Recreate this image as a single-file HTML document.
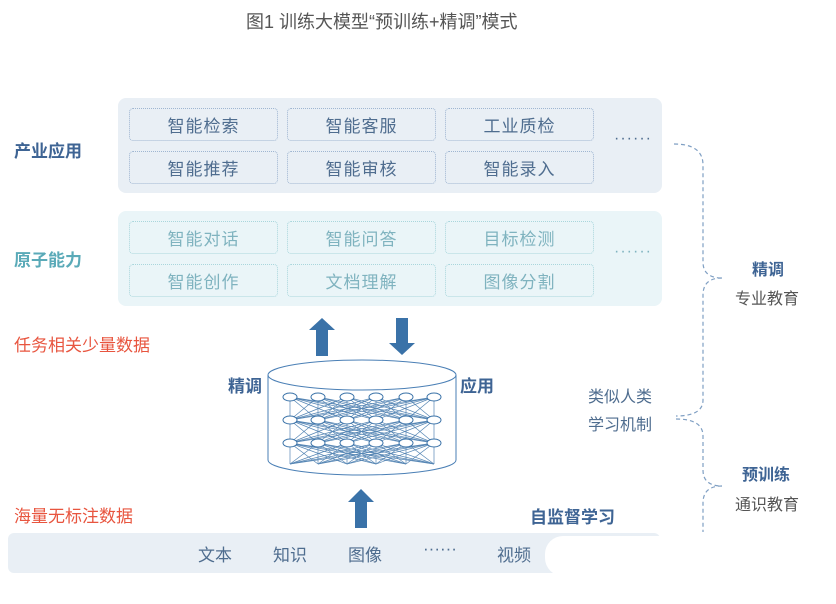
<!DOCTYPE html>
<html><head><meta charset="utf-8"><style>
body{margin:0;width:836px;height:604px;background:#fff;position:relative;overflow:hidden;font-family:"Liberation Sans","Noto Sans CJK SC",sans-serif}
.a{position:absolute;white-space:nowrap}
.c{position:absolute;border:1.3px dotted #9fb6d1;border-radius:4px;box-sizing:border-box;display:flex;align-items:center;justify-content:center;font-size:17px;color:#4f6d8f;letter-spacing:1px}
.c2{border-color:#a9d6dc;color:#7fb3bf}
</style></head><body>
<div class="a" style="left:246px;top:8px;font-size:18px;color:#555;">图1 训练大模型“预训练+精调”模式</div>

<div class="a" style="left:118px;top:98px;width:544px;height:95px;background:#e9eff5;border-radius:8px"></div>
<div class="a" style="left:118px;top:211px;width:544px;height:95px;background:#eaf5f8;border-radius:8px"></div>

<div class="c" style="left:129px;top:108px;width:149px;height:33px">智能检索</div>
<div class="c" style="left:287px;top:108px;width:149px;height:33px">智能客服</div>
<div class="c" style="left:445px;top:108px;width:149px;height:33px">工业质检</div>
<div class="c" style="left:129px;top:151px;width:149px;height:33px">智能推荐</div>
<div class="c" style="left:287px;top:151px;width:149px;height:33px">智能审核</div>
<div class="c" style="left:445px;top:151px;width:149px;height:33px">智能录入</div>
<div class="c c2" style="left:129px;top:221px;width:149px;height:33px">智能对话</div>
<div class="c c2" style="left:287px;top:221px;width:149px;height:33px">智能问答</div>
<div class="c c2" style="left:445px;top:221px;width:149px;height:33px">目标检测</div>
<div class="c c2" style="left:129px;top:264px;width:149px;height:33px">智能创作</div>
<div class="c c2" style="left:287px;top:264px;width:149px;height:33px">文档理解</div>
<div class="c c2" style="left:445px;top:264px;width:149px;height:33px">图像分割</div>
<div class="a" style="left:614px;top:130px;font-size:16px;color:#4f6d8f;letter-spacing:1px">······</div>
<div class="a" style="left:614px;top:243px;font-size:16px;color:#7fb3bf;letter-spacing:1px">······</div>

<div class="a" style="left:14px;top:137px;font-size:17px;font-weight:bold;color:#3e6494">产业应用</div>
<div class="a" style="left:14px;top:246px;font-size:17px;font-weight:bold;color:#5aaab8">原子能力</div>
<div class="a" style="left:14px;top:331px;font-size:17px;color:#e8553f">任务相关少量数据</div>
<div class="a" style="left:14px;top:502px;font-size:17px;color:#e8553f">海量无标注数据</div>
<div class="a" style="left:228px;top:372px;font-size:17px;font-weight:bold;color:#3e6494">精调</div>
<div class="a" style="left:460px;top:372px;font-size:17px;font-weight:bold;color:#3e6494">应用</div>
<div class="a" style="left:530px;top:503px;font-size:17px;font-weight:bold;color:#3e6494">自监督学习</div>
<div class="a" style="left:588px;top:384px;font-size:16px;color:#4f6d8f;line-height:28px">类似人类<br>学习机制</div>
<div class="a" style="left:752px;top:256px;font-size:16px;font-weight:bold;color:#3e6494">精调</div>
<div class="a" style="left:735px;top:285px;font-size:16px;color:#555">专业教育</div>
<div class="a" style="left:742px;top:461px;font-size:16px;font-weight:bold;color:#3e6494">预训练</div>
<div class="a" style="left:735px;top:491px;font-size:16px;color:#555">通识教育</div>

<div class="a" style="left:8px;top:533px;width:652px;height:40px;background:#e9eff5;border-radius:6px"></div>
<div class="a" style="left:545px;top:536px;width:140px;height:40px;background:#fff;border-radius:18px 0 0 18px"></div>
<div class="a" style="left:198px;top:541px;font-size:17px;color:#4f6d8f">文本</div>
<div class="a" style="left:273px;top:541px;font-size:17px;color:#4f6d8f">知识</div>
<div class="a" style="left:348px;top:541px;font-size:17px;color:#4f6d8f">图像</div>
<div class="a" style="left:423px;top:539px;font-size:17px;color:#4f6d8f">······</div>
<div class="a" style="left:497px;top:541px;font-size:17px;color:#4f6d8f">视频</div>

<svg class="a" style="left:0;top:0" width="836" height="604">
<g fill="#3a72a8">
<polygon points="322,318 335,330 328,330 328,356 316,356 316,330 309,330"/>
<polygon points="402,355 415,343 408,343 408,318 396,318 396,343 389,343"/>
<polygon points="361,489 374,502 367,502 367,528 355,528 355,502 348,502"/>
</g>
<g fill="none" stroke="#4a7fb5" stroke-width="1">
<ellipse cx="362" cy="375" rx="94" ry="15"/>
<path d="M268 375 L268 460 A94 15 0 0 0 456 460 L456 375"/>
</g>
<g fill="none" stroke="#3a72a8" stroke-width="0.7" opacity="0.85">
<path d="M290 397L290 420 290 397 318 420 290 397 347 420 290 397 376 420 290 397 406 420 290 397 434 420"/>
<path d="M318 397L290 420 318 397 318 420 318 397 347 420 318 397 376 420 318 397 406 420 318 397 434 420"/>
<path d="M347 397L290 420 347 397 318 420 347 397 347 420 347 397 376 420 347 397 406 420 347 397 434 420"/>
<path d="M376 397L290 420 376 397 318 420 376 397 347 420 376 397 376 420 376 397 406 420 376 397 434 420"/>
<path d="M406 397L290 420 406 397 318 420 406 397 347 420 406 397 376 420 406 397 406 420 406 397 434 420"/>
<path d="M434 397L290 420 434 397 318 420 434 397 347 420 434 397 376 420 434 397 406 420 434 397 434 420"/>
<path d="M290 420L290 443 290 420 318 443 290 420 347 443 290 420 376 443 290 420 406 443 290 420 434 443"/>
<path d="M318 420L290 443 318 420 318 443 318 420 347 443 318 420 376 443 318 420 406 443 318 420 434 443"/>
<path d="M347 420L290 443 347 420 318 443 347 420 347 443 347 420 376 443 347 420 406 443 347 420 434 443"/>
<path d="M376 420L290 443 376 420 318 443 376 420 347 443 376 420 376 443 376 420 406 443 376 420 434 443"/>
<path d="M406 420L290 443 406 420 318 443 406 420 347 443 406 420 376 443 406 420 406 443 406 420 434 443"/>
<path d="M434 420L290 443 434 420 318 443 434 420 347 443 434 420 376 443 434 420 406 443 434 420 434 443"/>
<path d="M290 443L290 464 290 443 318 464 290 443 347 464 290 443 376 464 290 443 406 464 290 443 434 464"/>
<path d="M318 443L290 464 318 443 318 464 318 443 347 464 318 443 376 464 318 443 406 464 318 443 434 464"/>
<path d="M347 443L290 464 347 443 318 464 347 443 347 464 347 443 376 464 347 443 406 464 347 443 434 464"/>
<path d="M376 443L290 464 376 443 318 464 376 443 347 464 376 443 376 464 376 443 406 464 376 443 434 464"/>
<path d="M406 443L290 464 406 443 318 464 406 443 347 464 406 443 376 464 406 443 406 464 406 443 434 464"/>
<path d="M434 443L290 464 434 443 318 464 434 443 347 464 434 443 376 464 434 443 406 464 434 443 434 464"/>
</g>
<g fill="#fff" stroke="#3a72a8" stroke-width="1">
<ellipse cx="290" cy="397" rx="7" ry="4"/><ellipse cx="318" cy="397" rx="7" ry="4"/><ellipse cx="347" cy="397" rx="7" ry="4"/><ellipse cx="376" cy="397" rx="7" ry="4"/><ellipse cx="406" cy="397" rx="7" ry="4"/><ellipse cx="434" cy="397" rx="7" ry="4"/>
<ellipse cx="290" cy="420" rx="7" ry="4"/><ellipse cx="318" cy="420" rx="7" ry="4"/><ellipse cx="347" cy="420" rx="7" ry="4"/><ellipse cx="376" cy="420" rx="7" ry="4"/><ellipse cx="406" cy="420" rx="7" ry="4"/><ellipse cx="434" cy="420" rx="7" ry="4"/>
<ellipse cx="290" cy="443" rx="7" ry="4"/><ellipse cx="318" cy="443" rx="7" ry="4"/><ellipse cx="347" cy="443" rx="7" ry="4"/><ellipse cx="376" cy="443" rx="7" ry="4"/><ellipse cx="406" cy="443" rx="7" ry="4"/><ellipse cx="434" cy="443" rx="7" ry="4"/>
</g>
<g fill="none" stroke="#7f9fc3" stroke-width="1.2" stroke-dasharray="4 3">
<path d="M674 144 Q703 144 703 165 L703 262 Q703 278 722 278"/>
<path d="M722 278 Q703 278 703 295 L703 400 Q703 416 676 416"/>
<path d="M676 419 Q703 419 703 436 L703 470 Q703 486 722 486"/>
<path d="M722 486 Q703 486 703 503 L703 532"/>
</g>
</svg>
</body></html>
